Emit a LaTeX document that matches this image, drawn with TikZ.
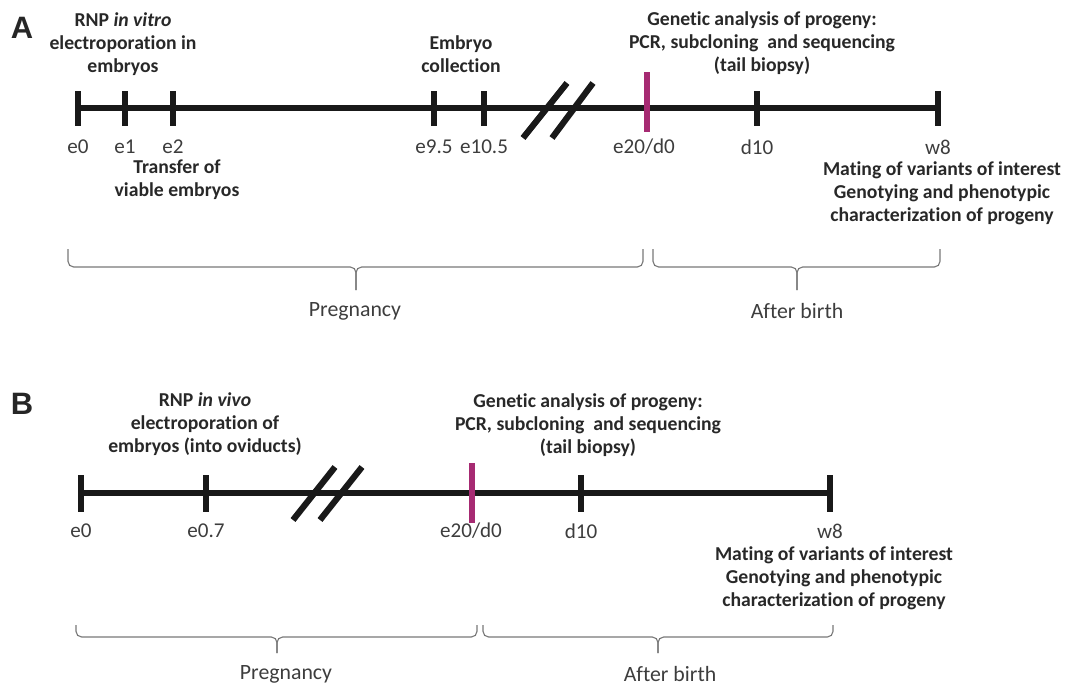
\documentclass[tikz,border=0pt]{standalone}
\usepackage{fontspec}
\setmainfont{Carlito}[Ligatures=NoCommon]
\newfontfamily\panelfont{Liberation Sans}
\usetikzlibrary{positioning,calc}

\definecolor{birthpink}{RGB}{166,42,114}
\definecolor{bracegray}{RGB}{120,120,120}
\definecolor{inkgray}{RGB}{40,40,40}

\newcommand{\evfont}{\fontsize{14}{16.2}\selectfont}
\newcommand{\spanbrace}[6]{% x1, x2, xtip, y, rise, drop
  \draw[brace] (#1,#4-#5) -- (#1,#4) -- (#3,#4) -- (#3,#4+#6);
  \draw[brace] (#2,#4-#5) -- (#2,#4) -- (#3,#4) -- (#3,#4+#6);
}

\tikzset{
  axis/.style={line width=3.8pt, color=black!90},
  tick/.style={line width=4.6pt, color=black!90},
  birthtick/.style={line width=4.6pt, color=birthpink},
  slash/.style={line width=4.4pt, color=black!90},
  brace/.style={line width=0.8pt, color=bracegray, rounded corners=4pt},
  ticklab/.style={font=\fontsize{15}{17}\selectfont, text=inkgray!90, inner sep=1pt},
  event/.style={font=\evfont\bfseries, text=inkgray, align=center, inner sep=1pt},
  spanlab/.style={font=\fontsize{15.5}{17}\selectfont, text=inkgray!90, inner sep=1pt},
  panel/.style={font=\panelfont\bfseries\fontsize{22}{24}\selectfont, text=black!85}
}

\begin{document}
\begin{tikzpicture}[x=0.025cm,y=-0.025cm]
  \useasboundingbox (0,0) rectangle (1065,685);

  % axis heights
  \def\yA{108}
  \def\yB{493}

  % panel letters
  \node[panel] (pA) at (22,28) {A};
  \node[panel] (pB) at (22,404) {B};

  %% ---------------- panel A ----------------
  \coordinate (astart) at (78,\yA);
  \coordinate (aend) at (938,\yA);
  \draw[axis] (astart) -- (aend);

  % ticks and day labels
  \foreach \x/\lab/\nm in {78/e0/a0, 125/e1/a1, 173/e2/a2, 434/e9.5/a95,
                           484/e10.5/a105, 757/d10/ad10, 938/w8/aw8}{
    \draw[tick] (\x,\yA-17) -- (\x,\yA+18);
    \node[ticklab] (\nm lab) at (\x,147) {\lab};
  }
  \draw[birthtick] (647,72) -- (647,132);
  \node[ticklab] (abirthlab) at (644,147) {e20/d0};

  % break in the axis
  \draw[slash] (523,138) -- (567,83);
  \draw[slash] (552,138) -- (593,83);

  % events
  \node[event] (aelec) at (123,44) {RNP \textit{in vitro}\\electroporation in\\embryos};
  \node[event] (atransfer) at (177,180) {Transfer of\\viable embryos};
  \node[event] (acollect) at (461,54) {Embryo\\collection};
  \node[event] (agenetic) at (762,43) {Genetic analysis of progeny:\\PCR, subcloning\ \ and sequencing\\(tail biopsy)};
  \node[event] (amating) at (942,193) {Mating of variants of interest\\Genotying and phenotypic\\characterization of progeny};

  % periods
  \spanbrace{68}{643}{356}{267}{18}{23}
  \spanbrace{653}{940}{797}{267}{18}{23}
  \node[spanlab] (apreg) at (355,311) {Pregnancy};
  \node[spanlab] (aafter) at (797,311) {After birth};

  %% ---------------- panel B ----------------
  \coordinate (bstart) at (81,\yB);
  \coordinate (bend) at (830,\yB);
  \draw[axis] (bstart) -- (bend);

  \foreach \x/\lab/\nm in {81/e0/b0, 206/e0.7/b07, 581/d10/bd10, 830/w8/bw8}{
    \draw[tick] (\x,\yB-18) -- (\x,\yB+19);
    \node[ticklab] (\nm lab) at (\x,531) {\lab};
  }
  \draw[birthtick] (472,463) -- (472,523);
  \node[ticklab] (bbirthlab) at (471,531) {e20/d0};

  % break in the axis
  \draw[slash] (293,520) -- (335,467);
  \draw[slash] (320,520) -- (362,467);

  % events
  \node[event] (belec) at (205,424) {RNP \textit{in vivo}\\electroporation of\\embryos (into oviducts)};
  \node[event] (bgenetic) at (588,425) {Genetic analysis of progeny:\\PCR, subcloning\ \ and sequencing\\(tail biopsy)};
  \node[event] (bmating) at (834,578) {Mating of variants of interest\\Genotying and phenotypic\\characterization of progeny};

  % periods
  \spanbrace{76}{477}{277}{637}{12}{16}
  \spanbrace{483}{833}{658}{637}{12}{16}
  \node[spanlab] (bpreg) at (286,674) {Pregnancy};
  \node[spanlab] (bafter) at (670,674) {After birth};
\end{tikzpicture}
\end{document}
